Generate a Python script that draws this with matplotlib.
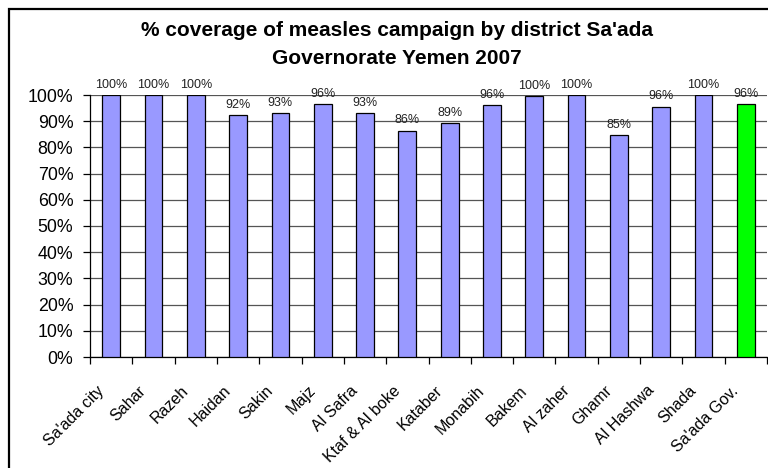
import matplotlib
matplotlib.use("Agg")
import matplotlib.pyplot as plt
from matplotlib.patches import Rectangle
from matplotlib.ticker import FixedLocator, PercentFormatter
from matplotlib.transforms import ScaledTranslation

plt.rcParams['font.family'] = ['Liberation Sans', 'DejaVu Sans']

districts = ["Sa'ada city", "Sahar", "Razeh", "Haidan", "Sakin", "Majz",
             "Al Safra", "Ktaf & Al boke", "Kataber", "Monabih", "Bakem",
             "Al zaher", "Ghamr", "Al Hashwa", "Shada", "Sa'ada Gov."]
coverage = [100, 100, 100, 92.4, 93.2, 96.4, 93.2, 86.4, 89.2, 96.0,
            99.6, 100, 84.8, 95.6, 100, 96.4]
bar_colors = ["#9999FF"] * 15 + ["#00FF00"]

fig = plt.figure(figsize=(7.68, 4.68), dpi=100)
fig.patch.set_facecolor("white")

# outer chart border (right/bottom edges fall off the canvas)
fig.patches.append(Rectangle((9 / 768, -0.05), 1.1, 0.9808 + 0.05,
                             transform=fig.transFigure, fill=False,
                             edgecolor="black", linewidth=1.6, zorder=0))

ax = fig.add_axes([90 / 768, 1 - 357 / 468, 677 / 768, (357 - 95) / 468])
x = list(range(len(districts)))
bars = ax.bar(x, coverage, width=0.42, color=bar_colors,
              edgecolor="black", linewidth=0.9, zorder=3)

for xi, v in zip(x, coverage):
    ax.annotate(f"{v:.0f}%", (xi, v), xytext=(0, 3), textcoords="offset points",
                ha="center", va="bottom", fontsize=9, color="#222222")

ax.set_xlim(-0.5, len(districts) - 0.5)
ax.set_ylim(0, 100)
ax.yaxis.set_major_locator(FixedLocator(range(0, 101, 10)))
ax.yaxis.set_major_formatter(PercentFormatter(decimals=0))
ax.yaxis.grid(True, color="#555555", linewidth=0.9, zorder=0)
ax.set_axisbelow(True)

ax.set_xticks(x)
ax.set_xticklabels(districts, rotation=45, ha="right", va="top",
                   rotation_mode="anchor", fontsize=11.5)
ax.tick_params(axis="x", which="major", length=0, pad=0)
shift = ScaledTranslation(-15 / 100, -26 / 100, fig.dpi_scale_trans)
for lbl in ax.get_xticklabels():
    lbl.set_transform(lbl.get_transform() + shift)
ax.set_xticks([i - 0.5 for i in range(len(districts) + 1)], minor=True)
ax.tick_params(axis="x", which="minor", length=5, width=0.9, direction="out")
ax.tick_params(axis="y", length=5, width=0.9, direction="out",
               labelsize=12.8, pad=7)

for s in ("top", "right"):
    ax.spines[s].set_visible(False)
for s in ("left", "bottom"):
    ax.spines[s].set_linewidth(0.9)
    ax.spines[s].set_color("black")
ax.set_facecolor("white")

fig.text(397 / 768, 1 - 30 / 468,
         "% coverage of measles campaign by district Sa'ada",
         ha="center", va="center", fontsize=15, fontweight="bold")
fig.text(397 / 768, 1 - 59 / 468, "Governorate Yemen 2007",
         ha="center", va="center", fontsize=15, fontweight="bold")

fig.savefig("out.png", dpi=100)
